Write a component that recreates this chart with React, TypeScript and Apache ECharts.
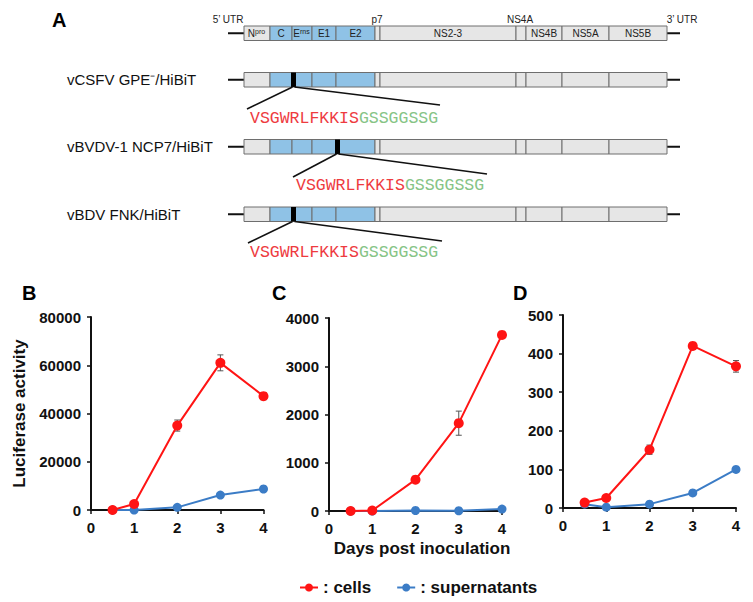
import React, { useEffect, useRef } from "react";
import * as echarts from "echarts";

// ---------- data ----------
const days = [0.5, 1, 2, 3, 4];
const bCells = [0, 2500, 35000, 61000, 47200];
const bCellsErr = [0, 300, 2300, 3300, 1500];
const bSup = [0, 0, 1100, 6200, 8700];
const cCells = [0, 10, 650, 1820, 3650];
const cCellsErr = [0, 0, 50, 250, 50];
const cSup = [0, 0, 10, 5, 40];
const dCells = [14, 26, 151, 420, 367];
const dCellsErr = [0, 0, 12, 5, 15];
const dSup = [10, 2, 10, 39, 100];

const yMax = [80000, 4000, 500];
const yStep = [20000, 1000, 100];
const panelLetters = ["B", "C", "D"];

const rowLabels = ["vCSFV GPE\u207B/HiBiT", "vBVDV-1 NCP7/HiBiT", "vBDV FNK/HiBiT"];
const hibitSeq = "VSGWRLFKKIS";
const linkerSeq = "GSSGGSSG";
const segNames = ["N", "C", "E", "E1", "E2", "", "NS2-3", "", "NS4B", "NS5A", "NS5B"];
const segSup = ["pro", "", "rns", "", "", "", "", "", "", "", ""];
const segStructural = [false, true, true, true, true, false, false, false, false, false, false];

// ---------- layout (positions / styles) ----------
const SANS = "Liberation Sans, Arial, sans-serif";
const MONO = "Liberation Mono, Courier New, monospace";
const RED = "#ff1414";
const BLUE = "#3b7cc6";
const bounds = [244, 270, 292, 312, 336, 375, 380, 516, 526, 562, 609, 667];
const barTops = [26, 72.5, 139.5, 207];
const barH = 14.5;
const markerX = [293.5, 337.5, 293.5];
const seqX = [250, 296, 250];
const seqY = [118, 185, 252];
const calloutEnd = [
  [[247, 109], [440, 105]],
  [[293, 177], [487, 174]],
  [[248, 243], [442, 241]],
];
const grids = [
  { left: 91, top: 317, width: 172.5, height: 193 },
  { left: 329, top: 318, width: 173, height: 193 },
  { left: 563, top: 315, width: 173, height: 193 },
];

function buildDiagram(): any[] {
  const els: any[] = [];
  els.push({ type: "text", style: { text: "A", x: 52, y: 20, font: `bold 20px ${SANS}`, fill: "#000", textVerticalAlign: "middle" } });
  const small = `10px ${SANS}`;
  els.push({ type: "text", style: { text: "5\u2019 UTR", x: 228, y: 19, font: small, fill: "#222", textAlign: "center", textVerticalAlign: "middle" } });
  els.push({ type: "text", style: { text: "p7", x: 377, y: 19, font: small, fill: "#222", textAlign: "center", textVerticalAlign: "middle" } });
  els.push({ type: "text", style: { text: "NS4A", x: 520, y: 19, font: small, fill: "#222", textAlign: "center", textVerticalAlign: "middle" } });
  els.push({ type: "text", style: { text: "3\u2019 UTR", x: 682, y: 19, font: small, fill: "#222", textAlign: "center", textVerticalAlign: "middle" } });

  barTops.forEach((top, r) => {
    const cy = top + barH / 2;
    els.push({ type: "line", shape: { x1: 228, y1: cy, x2: bounds[0], y2: cy }, style: { stroke: "#111", lineWidth: 2 } });
    els.push({ type: "line", shape: { x1: bounds[bounds.length - 1], y1: cy, x2: 680, y2: cy }, style: { stroke: "#111", lineWidth: 2 } });
    for (let i = 0; i < bounds.length - 1; i++) {
      els.push({
        type: "rect",
        shape: { x: bounds[i], y: top, width: bounds[i + 1] - bounds[i], height: barH },
        style: { fill: segStructural[i] ? "#8fc2e6" : "#e6e6e6", stroke: "#6e6e6e", lineWidth: 1 },
      });
      if (r === 0 && segNames[i]) {
        const cx = (bounds[i] + bounds[i + 1]) / 2;
        if (segSup[i]) {
          els.push({ type: "text", style: { text: segNames[i], x: cx - 2, y: cy, font: small, fill: "#222", textAlign: "right", textVerticalAlign: "middle" } });
          els.push({ type: "text", style: { text: segSup[i], x: cx - 2, y: cy - 2, font: `7px ${SANS}`, fill: "#222", textAlign: "left", textVerticalAlign: "middle" } });
        } else {
          els.push({ type: "text", style: { text: segNames[i], x: cx, y: cy, font: small, fill: "#222", textAlign: "center", textVerticalAlign: "middle" } });
        }
      }
    }
    if (r > 0) {
      const k = r - 1;
      const bottom = top + barH;
      els.push({ type: "text", style: { text: rowLabels[k], x: 67, y: cy, font: `15px ${SANS}`, fill: "#111", textVerticalAlign: "middle" } });
      els.push({ type: "rect", shape: { x: markerX[k] - 2.5, y: top, width: 5, height: barH }, style: { fill: "#000" } });
      els.push({ type: "line", shape: { x1: markerX[k] - 1, y1: bottom, x2: calloutEnd[k][0][0], y2: calloutEnd[k][0][1] }, style: { stroke: "#111", lineWidth: 1.6 } });
      els.push({ type: "line", shape: { x1: markerX[k] + 1, y1: bottom, x2: calloutEnd[k][1][0], y2: calloutEnd[k][1][1] }, style: { stroke: "#111", lineWidth: 1.6 } });
      els.push({
        type: "text",
        style: {
          text: `{r|${hibitSeq}}{g|${linkerSeq}}`,
          x: seqX[k],
          y: seqY[k],
          textVerticalAlign: "middle",
          rich: {
            r: { fill: "#ee3b3f", fontFamily: MONO, fontSize: 16.5 },
            g: { fill: "#86c486", fontFamily: MONO, fontSize: 16.5 },
          },
        },
      });
    }
  });
  return els;
}

function errSeries(idx: number, vals: number[], errs: number[]) {
  return {
    type: "custom",
    xAxisIndex: idx,
    yAxisIndex: idx,
    z: 1,
    silent: true,
    data: days.map((d, i) => [d, vals[i], errs[i]]),
    renderItem: (params: any, api: any) => {
      const x = api.value(0);
      const y = api.value(1);
      const e = api.value(2);
      if (!e) return null;
      const t = api.coord([x, y + e]);
      const b = api.coord([x, y - e]);
      const st = { stroke: "#555", lineWidth: 1 };
      return {
        type: "group",
        children: [
          { type: "line", shape: { x1: t[0], y1: t[1], x2: b[0], y2: b[1] }, style: st },
          { type: "line", shape: { x1: t[0] - 3, y1: t[1], x2: t[0] + 3, y2: t[1] }, style: st },
          { type: "line", shape: { x1: b[0] - 3, y1: b[1], x2: b[0] + 3, y2: b[1] }, style: st },
        ],
      };
    },
  };
}

function lineSeries(idx: number, name: string, vals: number[], color: string, size: number, z: number) {
  return {
    type: "line",
    name,
    xAxisIndex: idx,
    yAxisIndex: idx,
    z,
    data: days.map((d, i) => [d, vals[i]]),
    symbol: "circle",
    symbolSize: size,
    lineStyle: { color, width: 2 },
    itemStyle: { color },
  };
}

export default function App() {
  const ref = useRef<HTMLDivElement>(null);
  useEffect(() => {
    if (!ref.current) return;
    const chart = echarts.init(ref.current, undefined, { renderer: "svg" });
    const axisLabel = { color: "#111", fontWeight: "bold", fontSize: 15, fontFamily: SANS, formatter: (v: number) => String(v) };
    const axisLine = { show: true, lineStyle: { color: "#111", width: 2 } };
    const axisTick = { show: true, length: 4, lineStyle: { color: "#111", width: 1.5 } };
    const cellsSets = [bCells, cCells, dCells];
    const errSets = [bCellsErr, cCellsErr, dCellsErr];
    const supSets = [bSup, cSup, dSup];

    const series: any[] = [];
    [0, 1, 2].forEach((i) => {
      series.push(errSeries(i, cellsSets[i], errSets[i]));
      series.push(lineSeries(i, "supernatants", supSets[i], BLUE, 9, 2));
      series.push(lineSeries(i, "cells", cellsSets[i], RED, 10, 3));
    });

    const graphic: any[] = buildDiagram();
    grids.forEach((g, i) => {
      graphic.push({
        type: "text",
        style: { text: panelLetters[i], x: [22, 272, 513][i], y: 293, font: `bold 20px ${SANS}`, fill: "#000", textVerticalAlign: "middle" },
      });
    });
    graphic.push({
      type: "text",
      style: { text: "Days post inoculation", x: 422, y: 548, font: `bold 17px ${SANS}`, fill: "#111", textAlign: "center", textVerticalAlign: "middle" },
    });

    chart.setOption({
      animation: false,
      backgroundColor: "#fff",
      grid: grids.map((g) => ({ ...g, containLabel: false })),
      xAxis: grids.map((_, i) => ({
        type: "value",
        gridIndex: i,
        min: 0,
        max: 4,
        interval: 1,
        axisLine,
        axisTick,
        splitLine: { show: false },
        axisLabel: { ...axisLabel, margin: 10 },
      })),
      yAxis: grids.map((_, i) => ({
        type: "value",
        gridIndex: i,
        min: 0,
        max: yMax[i],
        interval: yStep[i],
        axisLine,
        axisTick,
        splitLine: { show: false },
        axisLabel: { ...axisLabel, margin: 10 },
        name: i === 0 ? "Luciferase activity" : "",
        nameLocation: "middle",
        nameGap: 63,
        nameTextStyle: { color: "#111", fontWeight: "bold", fontSize: 17, fontFamily: SANS },
      })),
      legend: {
        data: ["cells", "supernatants"],
        left: 294,
        top: 574,
        itemWidth: 18,
        itemHeight: 10,
        itemGap: 25,
        formatter: (n: string) => ": " + n,
        textStyle: { color: "#111", fontWeight: "bold", fontSize: 17, fontFamily: SANS },
        selectedMode: false,
      },
      graphic,
      series,
    });
    return () => chart.dispose();
  }, []);
  return <div ref={ref} style={{ position: "fixed", left: 0, top: 0, width: 753, height: 602, background: "#fff" }} />;
}
